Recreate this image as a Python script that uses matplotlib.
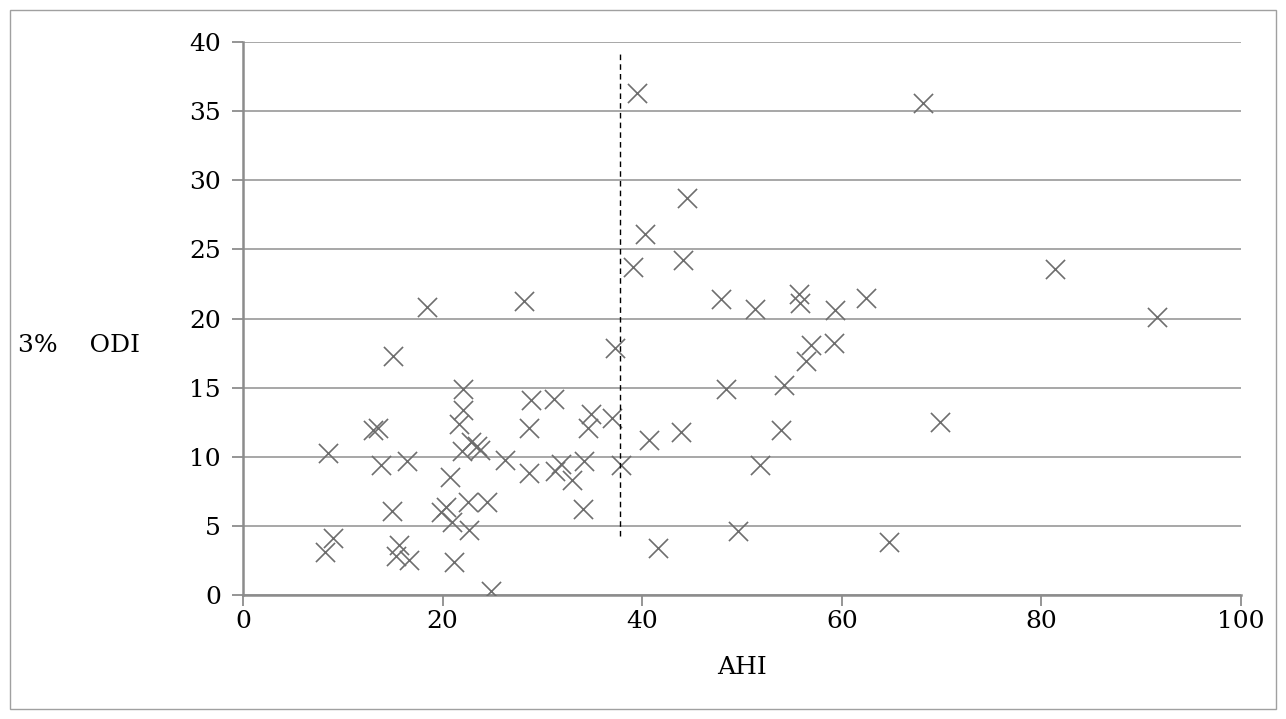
import numpy as np
import matplotlib
matplotlib.use("Agg")
import matplotlib.pyplot as plt
from matplotlib.patches import Rectangle

# AHI vs 3% ODI
ahi = [8.2, 9.0, 8.5, 13.0, 13.5, 13.8, 16.4, 14.9, 15.6, 15.3,
       16.6, 15.0, 18.4, 19.8, 20.3, 20.9, 21.1, 20.7, 22.5, 24.4,
       22.6, 24.8, 21.6, 22.0, 22.0, 22.8, 21.9, 23.4, 23.7, 26.2,
       28.7, 28.7, 28.9, 31.2, 28.2, 31.3, 31.9, 33.0, 34.2, 34.1,
       34.9, 34.6, 37.0, 37.3, 37.9, 39.5, 39.05, 40.3, 44.45, 44.06,
       40.7, 41.55, 43.9, 48.4, 49.6, 51.8, 47.9, 51.3, 55.7, 55.8,
       59.3, 62.4, 81.4, 91.6, 56.9, 59.2, 56.4, 54.2, 53.9, 69.8,
       64.7, 68.1]
odi = [3.1, 4.1, 10.3, 11.9, 12.1, 9.4, 9.7, 6.1, 3.6, 2.8,
       2.5, 17.3, 20.8, 6.0, 6.4, 5.3, 2.4, 8.5, 6.7, 6.7,
       4.7, 0.3, 12.4, 13.4, 14.9, 11.1, 10.4, 10.8, 10.5, 9.8,
       8.8, 12.1, 14.1, 14.2, 21.3, 9.0, 9.5, 8.3, 9.7, 6.2,
       13.1, 12.1, 12.8, 17.9, 9.4, 36.3, 23.7, 26.1, 28.7, 24.2,
       11.2, 3.4, 11.8, 14.9, 4.6, 9.4, 21.4, 20.7, 21.8, 21.1,
       20.6, 21.5, 23.6, 20.1, 18.1, 18.2, 16.9, 15.2, 11.9, 12.5,
       3.8, 35.6]

# dashed cut-off line
cut_x = 37.8
cut_y = [4.3, 39.2]

xticks = [0, 20, 40, 60, 80, 100]
yticks = [0, 5, 10, 15, 20, 25, 30, 35, 40]

plt.rcParams['font.family'] = ['DejaVu Serif']

fig = plt.figure(figsize=(12.86, 7.19), dpi=100)
ax = fig.add_axes([0.189, 0.1725, 0.776, 0.769])

ax.scatter(ahi, odi, marker='x', s=190, color='#6e6e6e', linewidths=1.2, zorder=3)
ax.plot([cut_x, cut_x], cut_y, color='black', linestyle=(0, (4, 3)), linewidth=1.0, zorder=4)

ax.set_xlim(0, 100)
ax.set_ylim(0, 40)
ax.set_xticks(xticks)
ax.set_yticks(yticks)
ax.yaxis.grid(True, color='#a0a0a0', linewidth=1.3)
ax.set_axisbelow(True)

for s in ['top', 'right']:
    ax.spines[s].set_visible(False)
for s in ['left', 'bottom']:
    ax.spines[s].set_color('#8c8c8c')
    ax.spines[s].set_linewidth(1.8)

ax.tick_params(axis='both', colors='#8c8c8c', length=8, width=1.3, labelsize=18, labelcolor='black')
ax.tick_params(axis='y', pad=8)
ax.tick_params(axis='x', pad=3)

ax.set_xlabel('AHI', fontsize=18)
ax.xaxis.set_label_coords(0.5, -0.11)
ax.set_ylabel('3%    ODI', fontsize=18, rotation=0, va='center', ha='left')
ax.yaxis.set_label_coords(-0.226, 0.452)

fig.patches.append(Rectangle((0.008, 0.014), 0.984, 0.972, transform=fig.transFigure,
                             fill=False, edgecolor='#a0a0a0', linewidth=1.0))

plt.savefig('out.png', dpi=100)
